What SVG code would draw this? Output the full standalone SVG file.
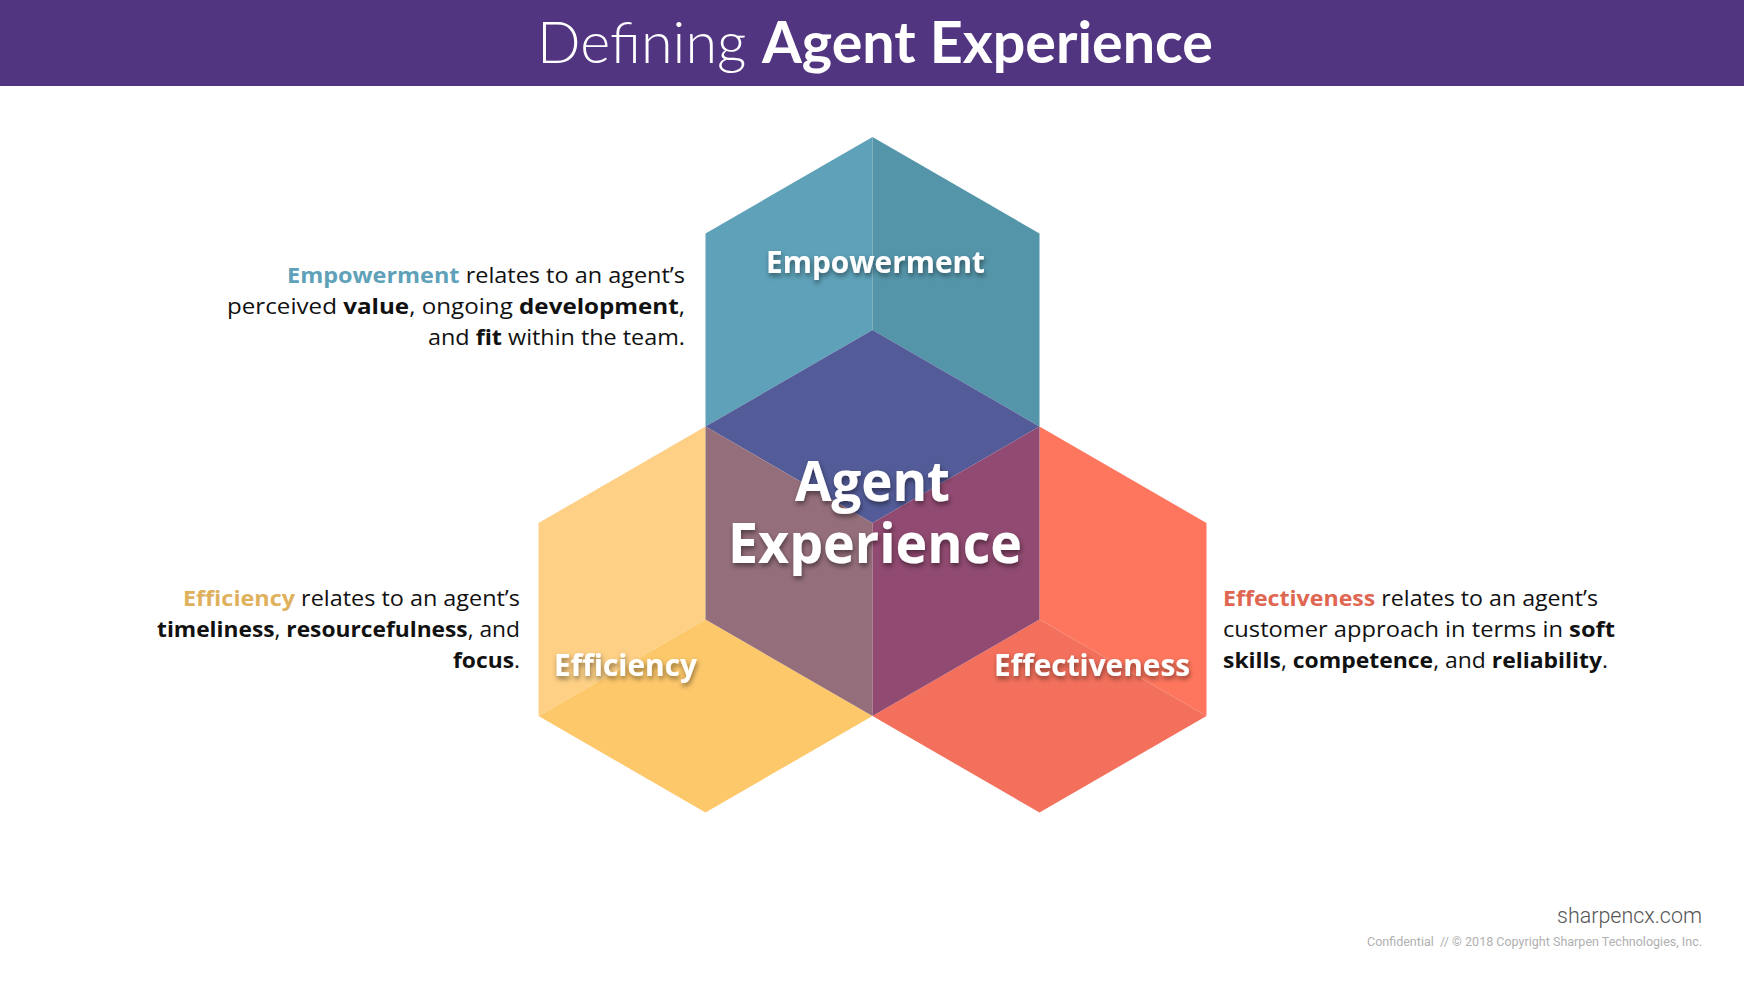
<svg xmlns="http://www.w3.org/2000/svg" width="1744" height="982" viewBox="0 0 1744 982">
<defs>
<filter id="sh" x="-20%" y="-40%" width="140%" height="180%">
<feDropShadow dx="1" dy="3" stdDeviation="2.5" flood-color="#000" flood-opacity="0.45"/>
</filter>
<style>
.lbl{font-family:"Open Sans","Liberation Sans",sans-serif;font-weight:700;fill:#fff;text-anchor:middle;filter:url(#sh)}
.p{font-family:"Open Sans","Liberation Sans",sans-serif;font-size:22px;fill:#111;font-weight:400}
.b{font-weight:700}
.r{text-anchor:end}
</style>
</defs>
<rect width="1744" height="982" fill="#fff"/>
<g id="header">
<rect x="0" y="0" width="1744" height="86" fill="#523581"/>
<text x="875" y="63" text-anchor="middle" font-family="Lato,'Open Sans',sans-serif" font-size="58" fill="#fff" textLength="676" lengthAdjust="spacingAndGlyphs"><tspan font-weight="300">Defining </tspan><tspan font-weight="700">Agent Experience</tspan></text>
</g>
<g id="hex-empowerment">
<polygon points="872.5,137 705.5,233.5 705.5,426.5 872.5,330" fill="#5ea1b8"/>
<polygon points="872.5,137 1039.5,233.5 1039.5,426.5 872.5,330" fill="#5595aa"/>
<text class="lbl" x="875.5" y="273" font-size="31" textLength="219" lengthAdjust="spacingAndGlyphs">Empowerment</text>
</g>
<g id="hex-efficiency">
<polygon points="705.5,426.5 538.5,523 538.5,716 705.5,619.5" fill="#fdd085"/>
<polygon points="705.5,619.5 538.5,716 705.5,812.5 872.5,716" fill="#fdc86a"/>
</g>
<g id="hex-effectiveness">
<polygon points="1039.5,426.5 1206.5,523 1206.5,716 1039.5,619.5" fill="#fe765d"/>
<polygon points="1039.5,619.5 1206.5,716 1039.5,812.5 872.5,716" fill="#f3705c"/>
</g>
<g id="agent-experience">
<polygon points="872.5,330 705.5,426.5 872.5,523 1039.5,426.5" fill="#535c98"/>
<polygon points="705.5,426.5 872.5,523 872.5,716 705.5,619.5" fill="#946e7b"/>
<polygon points="1039.5,426.5 872.5,523 872.5,716 1039.5,619.5" fill="#914a71"/>
<text class="lbl" x="872.5" y="501" font-size="56" textLength="155" lengthAdjust="spacingAndGlyphs">Agent</text>
<text class="lbl" x="875" y="563" font-size="56" textLength="294" lengthAdjust="spacingAndGlyphs">Experience</text>
</g>
<g id="labels">
<text class="lbl" x="625.5" y="676" font-size="31" textLength="143" lengthAdjust="spacingAndGlyphs">Efficiency</text>
<text class="lbl" x="1092" y="676" font-size="31" textLength="196" lengthAdjust="spacingAndGlyphs">Effectiveness</text>
</g>
<g id="desc-empowerment">
<text class="p r" x="685" y="283" textLength="398" lengthAdjust="spacingAndGlyphs"><tspan class="b" fill="#5ea1b8">Empowerment</tspan> relates to an agent’s</text>
<text class="p r" x="685" y="314" textLength="458" lengthAdjust="spacingAndGlyphs">perceived <tspan class="b">value</tspan>, ongoing <tspan class="b">development</tspan>,</text>
<text class="p r" x="685" y="345" textLength="257" lengthAdjust="spacingAndGlyphs">and <tspan class="b">fit</tspan> within the team.</text>
</g>
<g id="desc-efficiency">
<text class="p r" x="520" y="606" textLength="337" lengthAdjust="spacingAndGlyphs"><tspan class="b" fill="#dfb15d">Efficiency</tspan> relates to an agent’s</text>
<text class="p r" x="520" y="637" textLength="363" lengthAdjust="spacingAndGlyphs"><tspan class="b">timeliness</tspan>, <tspan class="b">resourcefulness</tspan>, and</text>
<text class="p r" x="520" y="668" textLength="67" lengthAdjust="spacingAndGlyphs"><tspan class="b">focus</tspan>.</text>
</g>
<g id="desc-effectiveness">
<text class="p" x="1223" y="606" textLength="375" lengthAdjust="spacingAndGlyphs"><tspan class="b" fill="#df6752">Effectiveness</tspan> relates to an agent’s</text>
<text class="p" x="1223" y="637" textLength="392" lengthAdjust="spacingAndGlyphs">customer approach in terms in <tspan class="b">soft</tspan></text>
<text class="p" x="1223" y="668" textLength="385" lengthAdjust="spacingAndGlyphs"><tspan class="b">skills</tspan>, <tspan class="b">competence</tspan>, and <tspan class="b">reliability</tspan>.</text>
</g>
<g id="footer">
<text x="1702" y="923" text-anchor="end" font-family="Roboto,'Liberation Sans',sans-serif" font-weight="300" font-size="22" fill="#555" textLength="145" lengthAdjust="spacingAndGlyphs">sharpencx.com</text>
<text x="1702" y="946" text-anchor="end" font-family="Roboto,'Liberation Sans',sans-serif" font-size="12.5" fill="#b0b0b0" textLength="335" lengthAdjust="spacingAndGlyphs">Confidential &#160;// © 2018 Copyright Sharpen Technologies, Inc.</text>
</g>
</svg>
